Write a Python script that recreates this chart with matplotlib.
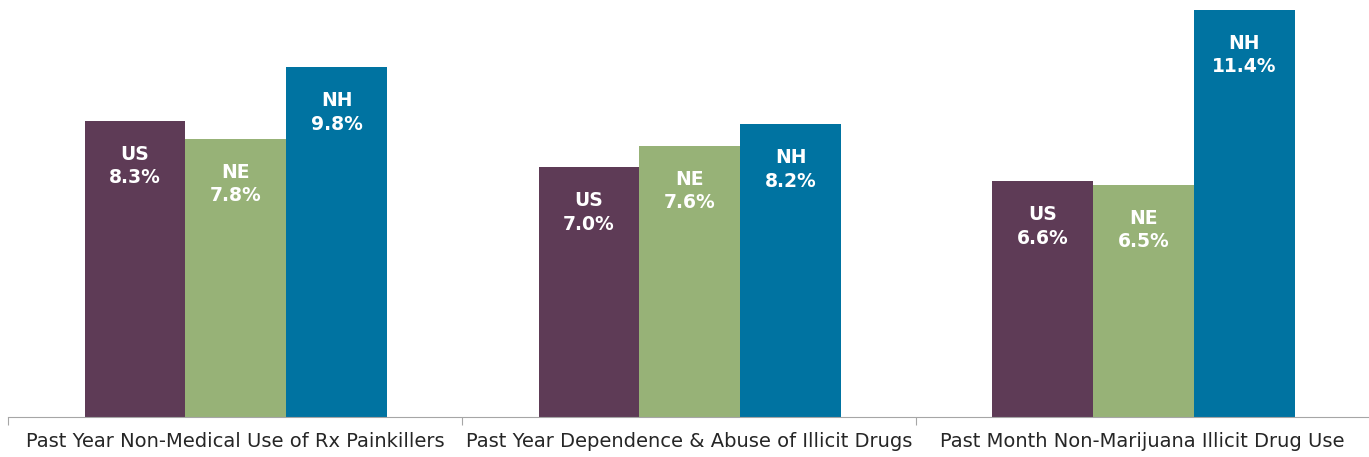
import matplotlib.pyplot as plt
import numpy as np

categories = ["Past Year Non-Medical Use of Rx Painkillers",
              "Past Year Dependence & Abuse of Illicit Drugs",
              "Past Month Non-Marijuana Illicit Drug Use"]
series = ["US", "NE", "NH"]
us = [8.3, 7.0, 6.6]
ne = [7.8, 7.6, 6.5]
nh = [9.8, 8.2, 11.4]
colors = ["#5E3B56", "#97B277", "#0073A1"]

fig = plt.figure(figsize=(13.69, 4.57), dpi=100)
ax = fig.add_axes([8/1369, 1 - 417/457, 1 - 8/1369 + 0.0005, 417/457])

x = np.arange(len(categories)) + 0.002
w = 0.222
for i, (name, vals, c) in enumerate(zip(series, [us, ne, nh], colors)):
    pos = x + (i - 1) * w
    ax.bar(pos, vals, width=w, color=c, edgecolor='none')
    for p, v in zip(pos, vals):
        ax.annotate(f"{name}\n{v:.1f}%", xy=(p, v), xytext=(0, -24),
                    textcoords='offset pixels', ha='center', va='top',
                    color='white', fontsize=13.5, fontweight='bold',
                    linespacing=1.3)

ax.set_xlim(-0.5, 2.5)
ax.set_ylim(0, 11.68)
ax.set_yticks([])
for s in ['top', 'right', 'left']:
    ax.spines[s].set_visible(False)
ax.spines['bottom'].set_color('#A6A6A6')
ax.set_xticks([-0.5, 0.5, 1.5, 2.5], minor=False)
ax.set_xticklabels([])
ax.tick_params(axis='x', which='major', length=6, color='#A6A6A6')
ax.set_xticks(np.arange(len(categories)), minor=True)
ax.set_xticklabels(categories, minor=True, fontsize=14, color='#262626')
ax.tick_params(axis='x', which='minor', length=0, pad=11)

fig.savefig("out.png", dpi=100)
